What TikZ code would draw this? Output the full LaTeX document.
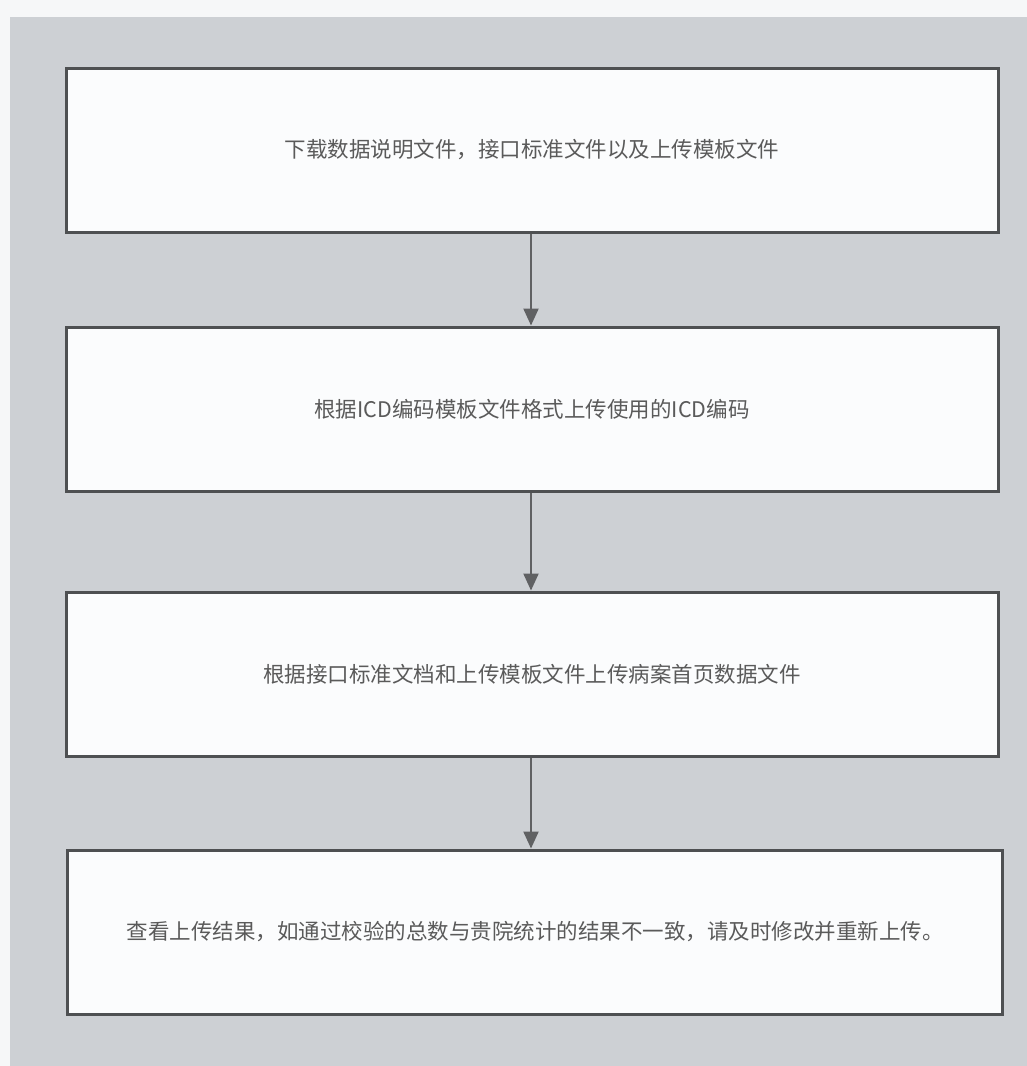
\documentclass[tikz,border=0pt]{standalone}
\usepackage{fontspec}
\newfontfamily\cjk{Noto Sans CJK SC}
\usetikzlibrary{arrows.meta}
\definecolor{bgpaper}{HTML}{F6F7F8}
\definecolor{bggrey}{HTML}{CDD0D4}
\definecolor{boxfill}{HTML}{FBFCFD}
\definecolor{boxline}{HTML}{4E5052}
\definecolor{txt}{HTML}{5A5A5A}
\tikzset{
  stepbox/.style={draw=boxline, line width=3pt, fill=boxfill, minimum width=932pt, minimum height=164pt, inner sep=0pt, text=txt, font=\cjk\fontsize{21.5}{26}\selectfont},
  flow/.style={draw=boxline!90, line width=2.2pt, -{Triangle[length=17pt,width=15pt]}}
}
\begin{document}
\begin{tikzpicture}[x=1pt,y=-1pt]
\useasboundingbox (0,0) rectangle (1027,1066);
\fill[bgpaper] (0,0) rectangle (1027,1066);
\fill[bggrey] (10,17) rectangle (1027,1066);
\node[stepbox] (b1) at (532,150) {下载数据说明文件，接口标准文件以及上传模板文件};
\node[stepbox] (b2) at (532,409) {根据ICD编码模板文件格式上传使用的ICD编码};
\node[stepbox] (b3) at (532,674) {根据接口标准文档和上传模板文件上传病案首页数据文件};
\node[stepbox, minimum width=935pt] (b4) at (535,932) {查看上传结果，如通过校验的总数与贵院统计的结果不一致，请及时修改并重新上传。};
\draw[flow] (b1.south -| 531,0) -- (b2.north -| 531,0);
\draw[flow] (b2.south -| 531,0) -- (b3.north -| 531,0);
\draw[flow] (b3.south -| 531,0) -- (b4.north -| 531,0);
\end{tikzpicture}
\end{document}
